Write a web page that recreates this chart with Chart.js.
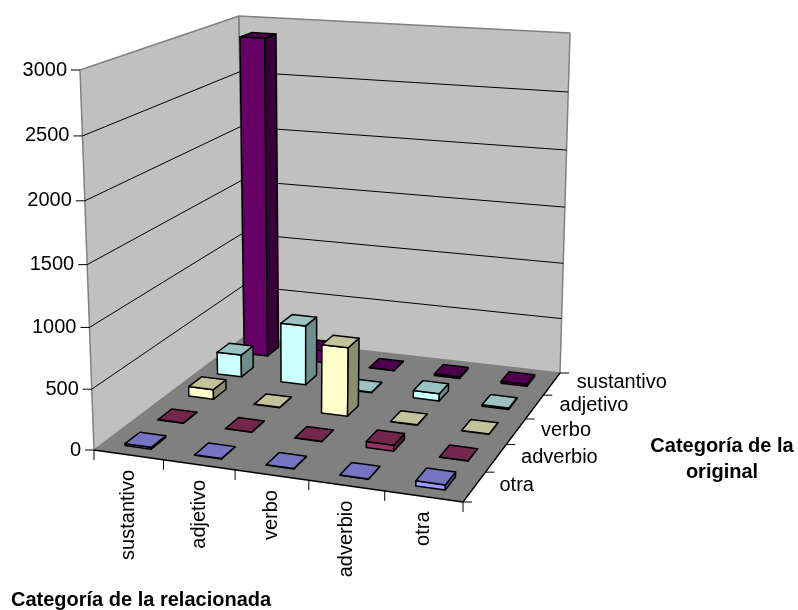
<!DOCTYPE html>
<html>
<head>
<meta charset="utf-8">
<style>
  html, body { margin: 0; background: #fff; }
  canvas { display: block; }
</style>
<script src="https://cdn.jsdelivr.net/npm/chart.js@4"></script>
</head>
<body>
<canvas id="chart" width="798" height="610"></canvas>
<script>
// Categories on both floor axes
const relatedCategories = ["sustantivo", "adjetivo", "verbo", "adverbio", "otra"];
const originalCategories = ["sustantivo", "adjetivo", "verbo", "adverbio", "otra"];

// One list per original category, back row first
const sustantivoValues = [2885, 110, 3, 15, 18];
const adjetivoValues = [200, 530, 5, 65, 12];
const verboValues = [85, 3, 590, 3, 3];
const adverbioValues = [3, 3, 3, 50, 3];
const otraValues = [15, 3, 3, 3, 40];
const seriesValues = [sustantivoValues, adjetivoValues, verboValues, adverbioValues, otraValues];
const seriesColors = ["#660066", "#CCFFFF", "#FFFFCC", "#993366", "#9999FF"];

const valueMax = 3000;
const valueStep = 500;

// Screen corners of the box: back-left, back-right, front-right, front-left
const floorCorners = [[244, 337], [560, 373], [463, 502], [94, 450]];
const topCorners = [[239, 16], [570, 33], [477, 94], [80, 70]];
const verticalPerspective = 0.05;
const barWidth = 0.38;
const barDepth = 0.44;
const font = '"Liberation Sans", Arial, sans-serif';

// Homography from the unit square to a quad
function squareToQuad(q) {
    const [x0, y0] = q[0], [x1, y1] = q[1], [x2, y2] = q[2], [x3, y3] = q[3];
    const dx1 = x1 - x2, dx2 = x3 - x2, sx = x0 - x1 + x2 - x3;
    const dy1 = y1 - y2, dy2 = y3 - y2, sy = y0 - y1 + y2 - y3;
    const den = dx1 * dy2 - dx2 * dy1;
    const g = (sx * dy2 - dx2 * sy) / den;
    const h = (dx1 * sy - sx * dy1) / den;
    const a = x1 - x0 + g * x1, b = x3 - x0 + h * x3;
    const d = y1 - y0 + g * y1, e = y3 - y0 + h * y3;
    return (u, v) => {
        const k = g * u + h * v + 1;
        return [(a * u + b * v + x0) / k, (d * u + e * v + y0) / k];
    };
}
const floorMap = squareToQuad(floorCorners);
const topMap = squareToQuad(topCorners);

// u: along the related axis, v: back to front, w: height, all 0..1
function project(u, v, w) {
    const p0 = floorMap(u, v), p1 = topMap(u, v);
    const t = w / (1 + verticalPerspective * (1 - w));
    return [p0[0] + (p1[0] - p0[0]) * t, p0[1] + (p1[1] - p0[1]) * t];
}

function shade(hex, f) {
    const n = parseInt(hex.slice(1), 16);
    const c = [n >> 16, (n >> 8) & 255, n & 255].map(x => Math.round(x * f));
    return "rgb(" + c.join(",") + ")";
}

function poly(ctx, pts, fill, stroke, lineWidth) {
    ctx.beginPath();
    pts.forEach((p, i) => i ? ctx.lineTo(p[0], p[1]) : ctx.moveTo(p[0], p[1]));
    ctx.closePath();
    if (fill) { ctx.fillStyle = fill; ctx.fill(); }
    if (stroke) { ctx.strokeStyle = stroke; ctx.lineWidth = lineWidth; ctx.stroke(); }
}

function line(ctx, a, b, color, lineWidth) {
    ctx.beginPath();
    ctx.moveTo(a[0], a[1]);
    ctx.lineTo(b[0], b[1]);
    ctx.strokeStyle = color;
    ctx.lineWidth = lineWidth;
    ctx.stroke();
}

function drawBox(ctx, scales) {
    const { y } = scales;
    poly(ctx, [project(0, 1, 0), project(0, 0, 0), project(0, 0, 1), project(0, 1, 1)], "#C0C0C0", "#808080", 1.5);
    poly(ctx, [project(0, 0, 0), project(1, 0, 0), project(1, 0, 1), project(0, 0, 1)], "#C0C0C0", "#808080", 1.5);
    poly(ctx, floorCorners, "#808080");
    y.ticks.forEach(t => {
        const w = y.getDecimalForPixel(y.getPixelForValue(t.value));
        if (t.value > 0 && t.value < valueMax) {
            line(ctx, project(0, 1, w), project(0, 0, w), "#000", 1);
            line(ctx, project(0, 0, w), project(1, 0, w), "#000", 1);
        }
        const p = project(0, 1, w);
        line(ctx, [p[0] - 9, p[1]], p, "#000", 1);
        ctx.fillStyle = "#000";
        ctx.font = "20px " + font;
        ctx.textAlign = "right";
        ctx.textBaseline = "middle";
        ctx.fillText(String(t.value), p[0] - 13, p[1]);
    });
    line(ctx, project(0, 1, 0), project(1, 1, 0), "#000", 1.3);
    line(ctx, project(1, 1, 0), project(1, 0, 0), "#000", 1.3);
}

function drawCategoryAxes(ctx, scales) {
    const { x, z } = scales;
    ctx.fillStyle = "#000";
    ctx.font = "20px " + font;
    // tick marks on the cell boundaries
    for (let i = 0; i <= relatedCategories.length; i++) {
        const p = project(i / relatedCategories.length, 1, 0);
        line(ctx, p, [p[0], p[1] + 10], "#000", 1);
    }
    for (let i = 0; i <= originalCategories.length; i++) {
        const p = project(1, i / originalCategories.length, 0);
        line(ctx, p, [p[0] + 9, p[1]], "#000", 1);
    }
    x.ticks.forEach((t, i) => {
        const u = x.getDecimalForPixel(x.getPixelForValue(t.value));
        const p = project(u, 1, 0);
        ctx.save();
        ctx.translate(p[0], p[1] + 15);
        ctx.rotate(-Math.PI / 2);
        ctx.textAlign = "right";
        ctx.textBaseline = "middle";
        ctx.fillText(x.getLabelForValue(t.value), 0, 0);
        ctx.restore();
    });
    z.ticks.forEach(t => {
        const v = z.getDecimalForPixel(z.getPixelForValue(t.value));
        const p = project(1, v, 0);
        ctx.textAlign = "left";
        ctx.textBaseline = "middle";
        ctx.fillText(z.getLabelForValue(t.value), p[0] + 25, p[1] - 1);
    });
    ctx.font = "bold 20px " + font;
    ctx.textAlign = "left";
    ctx.textBaseline = "alphabetic";
    ctx.fillText("Categoría de la relacionada", 11, 606);
    ctx.textAlign = "center";
    ctx.fillText("Categoría de la", 722, 452);
    ctx.fillText("original", 722, 478);
}

function drawBars(chart, ctx) {
    const { x, y, z } = chart.scales;
    chart.data.datasets.forEach((ds, row) => {
        const v = z.getDecimalForPixel(z.getPixelForValue(row));
        const hd = barDepth / originalCategories.length / 2;
        ds.data.forEach((value, col) => {
            const u = x.getDecimalForPixel(x.getPixelForValue(col));
            const hu = barWidth / relatedCategories.length / 2;
            const w = y.getDecimalForPixel(y.getPixelForValue(value));
            const color = ds.backgroundColor;
            poly(ctx, [project(u - hu, v + hd, 0), project(u + hu, v + hd, 0), project(u + hu, v + hd, w), project(u - hu, v + hd, w)], color, "#000", 1.5);
            poly(ctx, [project(u + hu, v + hd, 0), project(u + hu, v - hd, 0), project(u + hu, v - hd, w), project(u + hu, v + hd, w)], shade(color, 0.55), "#000", 1.5);
            poly(ctx, [project(u - hu, v + hd, w), project(u + hu, v + hd, w), project(u + hu, v - hd, w), project(u - hu, v - hd, w)], shade(color, 0.76), "#000", 1.5);
        });
    });
}

// Replaces the flat bars with the projected box and columns
const box3d = {
    id: "box3d",
    beforeDatasetsDraw(chart) {
        const ctx = chart.ctx;
        ctx.save();
        ctx.lineJoin = "round";
        drawBox(ctx, chart.scales);
        drawCategoryAxes(ctx, chart.scales);
        drawBars(chart, ctx);
        ctx.restore();
        return false;
    },
};

new Chart(document.getElementById("chart"), {
    type: "bar",
    data: {
        labels: relatedCategories,
        datasets: originalCategories.map((name, i) => ({
            label: name,
            data: seriesValues[i],
            backgroundColor: seriesColors[i],
        })),
    },
    options: {
        responsive: false,
        animation: false,
        plugins: { legend: { display: false }, tooltip: { enabled: false } },
        scales: {
            x: { display: false },
            y: { display: false, min: 0, max: valueMax, ticks: { stepSize: valueStep } },
            z: { type: "category", axis: "x", labels: originalCategories, display: false },
        },
    },
    plugins: [box3d],
});
</script>
</body>
</html>
